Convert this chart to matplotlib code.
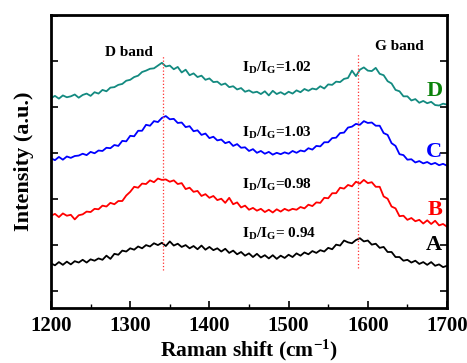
import numpy as np
import matplotlib
matplotlib.use("Agg")
import matplotlib.pyplot as plt

plt.rcParams["font.family"] = "Liberation Serif"
plt.rcParams["font.weight"] = "bold"
plt.rcParams["axes.labelweight"] = "bold"
plt.rcParams["mathtext.fontset"] = "custom"
plt.rcParams["mathtext.rm"] = "Liberation Serif:bold"
plt.rcParams["mathtext.it"] = "Liberation Serif:bold"
plt.rcParams["mathtext.bf"] = "Liberation Serif:bold"

# Raman shift, cm-1
shift = np.arange(1200, 1701, 5)

# offset spectra (a.u.)
spec_d = [420, 425, 419, 426, 422, 424, 428, 421, 427, 430,
          425, 433, 430, 438, 435, 443, 444, 449, 451, 458,
          460, 466, 469, 477, 480, 484, 485, 491, 497, 489,
          491, 483, 488, 476, 482, 470, 474, 466, 469, 460,
          463, 455, 456, 449, 452, 444, 446, 439, 442, 434,
          437, 432, 434, 429, 435, 426, 436, 429, 433, 428,
          434, 430, 437, 433, 440, 436, 441, 439, 446, 441,
          450, 449, 456, 455, 462, 464, 480, 468, 482, 487,
          480, 479, 486, 473, 470, 457, 452, 438, 435, 424,
          424, 415, 418, 410, 414, 409, 412, 405, 404, 408,
          406]
spec_c = [289, 285, 292, 286, 293, 290, 294, 295, 299, 296,
          303, 300, 306, 305, 312, 311, 318, 316, 327, 326,
          338, 337, 349, 349, 362, 360, 370, 368, 377, 381,
          374, 375, 366, 367, 357, 359, 348, 350, 340, 343,
          333, 336, 328, 330, 322, 325, 316, 320, 312, 313,
          305, 309, 301, 305, 299, 303, 297, 301, 298, 302,
          299, 305, 301, 306, 304, 311, 308, 316, 315, 324,
          324, 333, 334, 344, 345, 356, 358, 364, 362, 370,
          366, 367, 360, 360, 344, 340, 322, 316, 298, 296,
          286, 287, 280, 283, 278, 281, 276, 279, 274, 277,
          273]
spec_b = [164, 168, 161, 169, 164, 166, 156, 165, 167, 173,
          172, 179, 178, 186, 184, 192, 189, 196, 196, 208,
          216, 227, 225, 234, 233, 241, 237, 245, 242, 243,
          238, 241, 233, 235, 222, 225, 216, 218, 207, 211,
          203, 207, 198, 201, 192, 203, 189, 193, 182, 186,
          177, 181, 175, 179, 172, 177, 171, 178, 173, 179,
          175, 179, 177, 183, 180, 188, 185, 193, 192, 203,
          202, 213, 213, 225, 223, 231, 228, 238, 234, 242,
          235, 237, 227, 227, 206, 201, 184, 180, 163, 164,
          155, 159, 152, 155, 147, 154, 146, 153, 143, 146,
          140]
spec_a = [60, 56, 63, 57, 64, 58, 65, 62, 68, 62,
          69, 66, 71, 68, 77, 70, 81, 79, 88, 86,
          93, 90, 97, 93, 100, 97, 104, 100, 105, 98,
          108, 99, 103, 96, 100, 93, 98, 91, 99, 90,
          96, 89, 93, 86, 92, 83, 88, 80, 85, 77,
          82, 74, 81, 73, 78, 71, 78, 70, 77, 72,
          79, 74, 82, 77, 84, 80, 87, 83, 89, 86,
          94, 91, 101, 99, 110, 106, 104, 111, 115, 108,
          110, 101, 103, 94, 96, 85, 85, 74, 74, 66,
          68, 62, 66, 59, 63, 57, 63, 55, 58, 52,
          55]

names = ["A", "B", "C", "D"]
ratios = ["= 0.94", "=0.98", "=1.03", "=1.02"]
d_band, g_band = 1342, 1588

line_cols = ["black", "#ff0000", "#0000ff", "#138a80"]
name_cols = ["black", "#ff0000", "#0000ff", "#0a820a"]
name_y = [100, 176, 302, 436]
ratio_y = [124, 232, 345, 486]

fig = plt.figure(figsize=(4.67, 3.63), dpi=100)
ax = fig.add_axes([0.1092, 0.1515, 0.848, 0.807])

for spec, c in zip([spec_a, spec_b, spec_c, spec_d], line_cols):
    ax.plot(shift, spec, color=c, lw=1.3)

ax.plot([d_band, d_band], [46, 514], color="#ff3030", lw=0.9, ls=":")
ax.plot([g_band, g_band], [51, 519], color="#ff3030", lw=0.9, ls=":")

for n, c, y in zip(names, name_cols, name_y):
    ax.text(1694, y, n, color=c, fontsize=16, ha="right", va="center")
for r, y in zip(ratios, ratio_y):
    ax.text(1441, y, r"I$_\mathrm{D}$/I$_\mathrm{G}$" + r, fontsize=11,
            ha="left", va="center")

ax.text(1298, 520, "D band", fontsize=11, ha="center", va="center")
ax.text(1640, 532, "G band", fontsize=11, ha="center", va="center")

ax.set_xlim(1200, 1700)
ax.set_ylim(-37, 601)
ax.set_xticks([1200, 1300, 1400, 1500, 1600, 1700])
ax.set_xticks([1250, 1350, 1450, 1550, 1650], minor=True)
ax.set_yticks([0, 100, 200, 300, 400, 500, 600])
ax.set_yticklabels([])
ax.tick_params(axis="x", direction="in", length=5, width=1.2, labelsize=15, pad=6)
ax.tick_params(axis="x", which="minor", direction="in", length=3, width=1)
ax.tick_params(axis="y", direction="in", length=5, width=1.2, right=True)
for lab in ax.get_xticklabels():
    lab.set_fontweight("bold")
for s in ax.spines.values():
    s.set_linewidth(2)

ax.set_xlabel("Raman shift (cm$^{-1}$)", fontsize=15.5, labelpad=1)
ax.set_ylabel("Intensity (a.u.)", fontsize=16, labelpad=9)

fig.savefig("out.png", dpi=100)
